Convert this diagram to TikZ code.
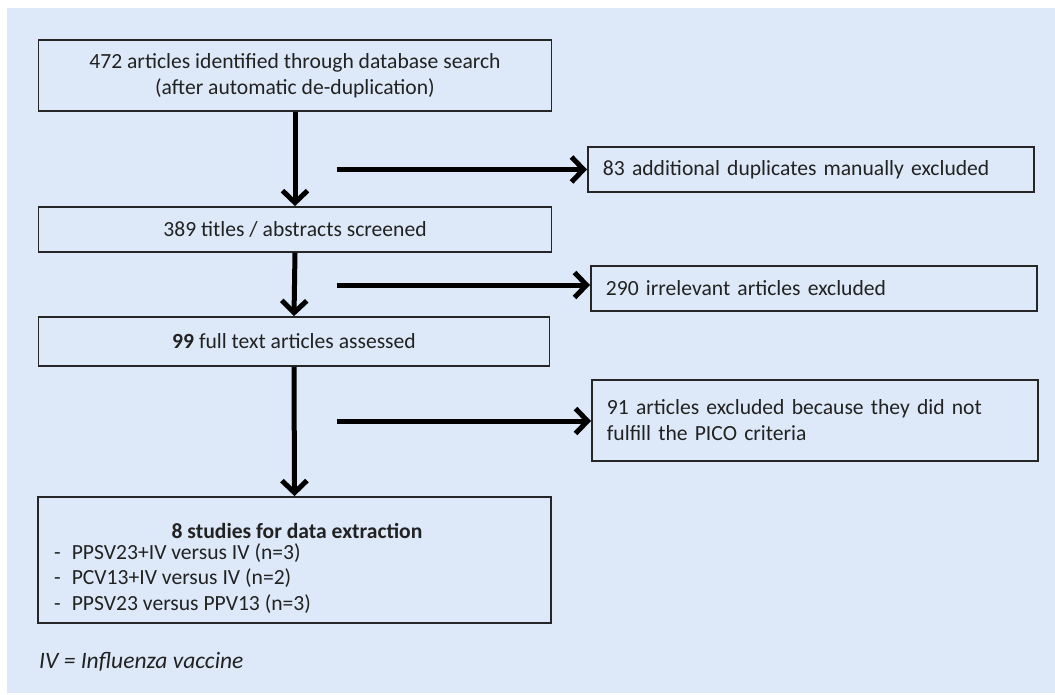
\documentclass[tikz,border=0pt]{standalone}
\usepackage{fontspec}
\setmainfont{Carlito}
\usetikzlibrary{arrows.meta}
\definecolor{panelblue}{HTML}{DDE9F8}
\definecolor{inkgrey}{HTML}{222222}
\begin{document}
\begin{tikzpicture}[x=1pt,y=-1pt,
  box/.style={draw=black!85,line width=1.8pt,minimum height=45pt,text=inkgrey,
    font=\fontsize{21.6}{26}\selectfont,align=center},
  sidebox/.style={box,anchor=west,align=left,inner xsep=15pt,text width=416pt},
  flow/.style={line width=5pt,-{Straight Barb[length=12pt,width=25pt]}}]
\useasboundingbox (0,0) rectangle (1055,695);
\fill[panelblue] (7,8) rectangle (1055,693);
% main column
\node[box,minimum width=513pt,minimum height=71pt] (found) at (295,75.5)
  {472 articles identified through database search\\(after automatic de-duplication)};
\node[box,minimum width=513pt] (screened) at (295,229.5) {389 titles / abstracts screened};
\node[box,minimum width=511pt,minimum height=49pt] (assessed) at (294,341.5)
  {{\bfseries 99} full text articles assessed};
\node[box,minimum width=513pt,minimum height=126pt] (included) at (294.5,560) {};
\node[text=inkgrey,font=\fontsize{21.6}{26}\selectfont\bfseries] (inctitle) at (297,531)
  {8 studies for data extraction};
\node[text=inkgrey,font=\fontsize{21.6}{25.5}\selectfont,align=left,anchor=north west,
  inner sep=0pt] (inclist) at (54,543)
  {-\hspace{11pt}PPSV23+IV versus IV (n=3)\\
   -\hspace{11pt}PCV13+IV versus IV (n=2)\\
   -\hspace{11pt}PPSV23 versus PPV13 (n=3)};
% excluded side
\node[sidebox] (dupl) at (587,169.5) {83 additional duplicates manually excluded};
\node[sidebox] (irrel) at (590,288.5) {290 irrelevant articles excluded};
\node[sidebox,minimum height=81pt] (pico) at (591,420.5)
  {91 articles excluded because they did not\\fulfill the PICO criteria};
\node[text=inkgrey,font=\fontsize{23.5}{28}\selectfont\itshape,anchor=west,inner sep=0pt]
  (note) at (39,662) {IV = Influenza vaccine};
% arrows
\coordinate (b1) at (337,169.5);
\coordinate (b2) at (337,285);
\coordinate (b3) at (337,421);
\draw[flow] (found.south) -- (screened.north);
\draw[flow] (screened.south) -- (assessed.north);
\draw[flow] (assessed.south) -- (included.north);
\draw[flow] (b1) -- (dupl.west);
\draw[flow] (b2) -- (irrel.west |- b2);
\draw[flow] (b3) -- (pico.west |- b3);
\end{tikzpicture}
\end{document}
